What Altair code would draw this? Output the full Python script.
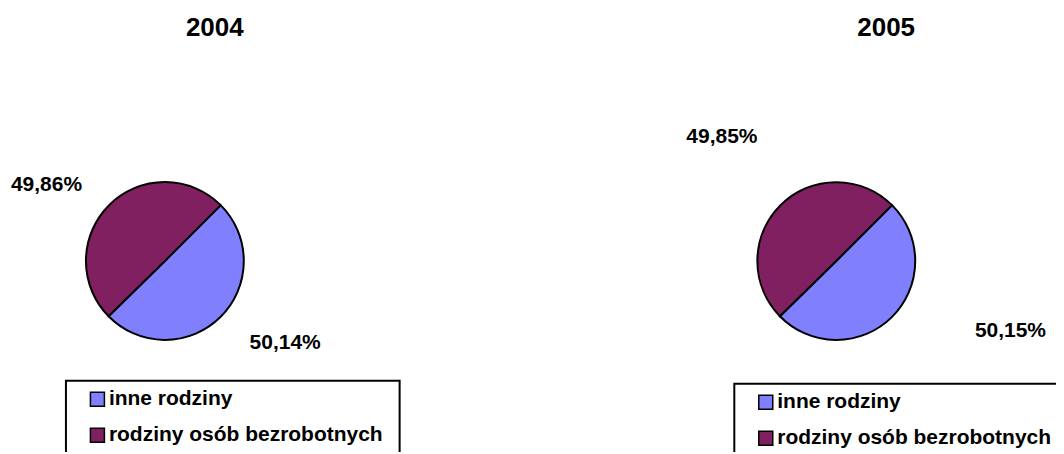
import math
import altair as alt
import pandas as pd

# ---- data ----
CATEGORIES = ["inne rodziny", "rodziny osób bezrobotnych"]
COLORS = ["#8080FF", "#802060"]
YEARS = ["2004", "2005"]
VALUES_2004 = [50.14, 49.86]
VALUES_2005 = [50.15, 49.85]
LABELS_2004 = ["50,14%", "49,86%"]
LABELS_2005 = ["50,15%", "49,85%"]

# ---- styling / layout ----
FONT = "Liberation Sans"
START = math.pi / 4
THETA_RANGE = [START, START + 2 * math.pi]
PIE_R = 79
LABEL_R = 110
PANEL_W = 314
PANEL_H = 384
TXT = 21


def panel(year, values, labels, legend_x, legend_y, label_offsets):
    df = pd.DataFrame({
        "category": CATEGORIES,
        "value": values,
        "label": labels,
        "order": list(range(len(CATEGORIES))),
    })
    base = alt.Chart(df)
    arc = base.mark_arc(radius=PIE_R, stroke="black", strokeWidth=2).encode(
        theta=alt.Theta("value:Q", stack=True, scale=alt.Scale(range=THETA_RANGE)),
        color=alt.Color(
            "category:N",
            scale=alt.Scale(domain=CATEGORIES, range=COLORS),
            legend=alt.Legend(
                orient="none", legendX=legend_x, legendY=legend_y,
                # invisible spacer title on the right widens the legend frame
                title="\u00a0", titleOrient="right", titlePadding=9,
                titleFontSize=TXT, titleFont=FONT,
                symbolType="square", symbolSize=196, symbolStrokeColor="black",
                symbolStrokeWidth=1.5, labelFont=FONT, labelFontSize=TXT,
                labelFontWeight="bold", labelColor="black", strokeColor="black",
                padding=8, symbolOffset=13, rowPadding=14, labelOffset=1,
                labelLimit=500,
            ),
        ),
        order=alt.Order("order:Q"),
    )
    layers = [arc]
    for cat, (dx, dy) in zip(CATEGORIES, label_offsets):
        t = (
            base.transform_window(cum="sum(value)", sort=[alt.SortField("order")])
            .transform_calculate(mid="datum.cum - datum.value / 2")
            .transform_filter(alt.datum.category == cat)
            .mark_text(radius=LABEL_R, dx=dx, dy=dy, font=FONT, fontSize=TXT,
                       fontWeight="bold", color="black", align="center",
                       baseline="middle")
            .encode(
                theta=alt.Theta("mid:Q", stack=False, scale=alt.Scale(range=THETA_RANGE)),
                text="label:N",
            )
        )
        layers.append(t)
    return alt.layer(*layers).properties(
        width=PANEL_W, height=PANEL_H,
        title=alt.TitleParams(year, fontSize=26, font=FONT, fontWeight="bold",
                              color="black", dx=50, offset=28, anchor="middle"),
    )


p1 = panel(YEARS[0], VALUES_2004, LABELS_2004, 58, 312, [(43, 4), (-41, 2)])
p2 = panel(YEARS[1], VALUES_2005, LABELS_2005, 55, 315, [(97, -8), (-37, -46)])

chart = (
    alt.hconcat(p1, p2, spacing=358, bounds="flush")
    .resolve_scale(color="independent", theta="independent")
    .resolve_legend(color="independent")
    .properties(padding={"left": 0, "top": 7, "right": -13, "bottom": -6},
                background="white")
    .configure_view(stroke=None)
    .configure_legend(strokeWidth=2)
)

chart.save("out.html", embed_options={"renderer": "svg", "actions": False})
